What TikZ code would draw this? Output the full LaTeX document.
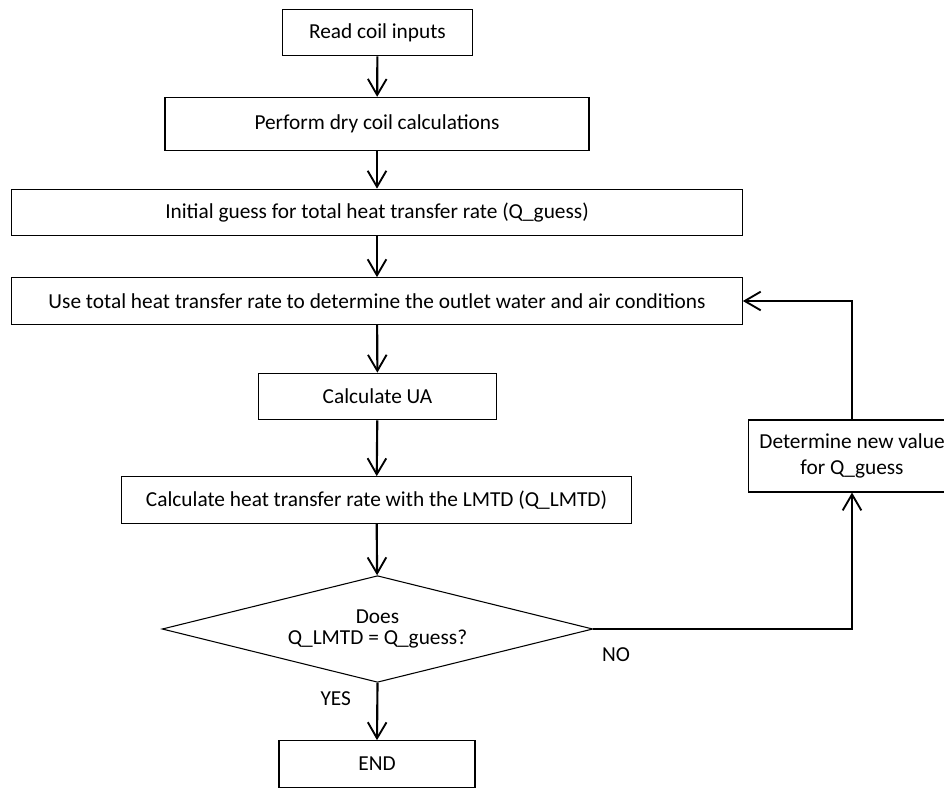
\documentclass[tikz,border=0pt]{standalone}
\usepackage{fontspec}
\setmainfont{Carlito}
\usepackage{tikz}
\usetikzlibrary{arrows.meta,positioning,shapes.geometric}
\tikzset{
  ar/.style={-{Straight Barb[length=12pt,width=14pt,line width=1.4pt]},line width=1.6pt,black},
  box/.style={draw=black,line width=0.8pt,fill=white,align=center,inner sep=0pt},
  dec/.style={diamond,aspect=4.07,draw=black,line width=0.8pt,fill=white,align=center,inner sep=0pt,minimum width=323pt,minimum height=80pt},
  lbl/.style={font=\fontsize{16}{19.5}\selectfont,inner sep=0pt}
}
\begin{document}
\begin{tikzpicture}[x=0.75pt,y=-0.75pt,font=\fontsize{16}{19.5}\selectfont]
\useasboundingbox (0,0) rectangle (944,788);
% main column
\node[box,minimum width=143pt,minimum height=35pt] (read) at (377.5,32.5) {Read coil inputs};
\node[box,minimum width=318pt,minimum height=40pt] (dry) at (377,124) {Perform dry coil calculations};
\node[box,minimum width=548pt,minimum height=35pt] (guess) at (377,212.5) {Initial guess for total heat transfer rate (Q\_guess)};
\node[box,minimum width=548pt,minimum height=35pt] (use) at (377,301) {Use total heat transfer rate to determine the outlet water and air conditions};
\node[box,minimum width=178pt,minimum height=35pt] (ua) at (377.5,396.5) {Calculate UA};
\node[box,minimum width=383pt,minimum height=35pt] (lmtd) at (376.5,500) {Calculate heat transfer rate with the LMTD (Q\_LMTD)};
\node[dec] (check) at (377.5,629) {Does\\[-3.5pt]Q\_LMTD = Q\_guess?};
\node[box,minimum width=147pt,minimum height=35pt] (endn) at (377,764) {END};
% loop back
\node[box,minimum width=155pt,minimum height=54pt] (newq) at (852,456) {Determine new value\\for Q\_guess};

\draw[ar] (read) -- (dry);
\draw[ar] (dry) -- (guess);
\draw[ar] (guess) -- (use);
\draw[ar] (use) -- (ua);
\draw[ar] (ua) -- (lmtd);
\draw[ar] (lmtd) -- (check);
\draw[ar] (check.south) -- (endn.north) node[lbl,pos=0.27,left=19pt] {YES};
\draw[ar] (check.east) -| (newq.south) node[lbl,pos=0.044,below=13pt] {NO};
\draw[ar] (newq.north) |- (use.east);
\end{tikzpicture}
\end{document}
